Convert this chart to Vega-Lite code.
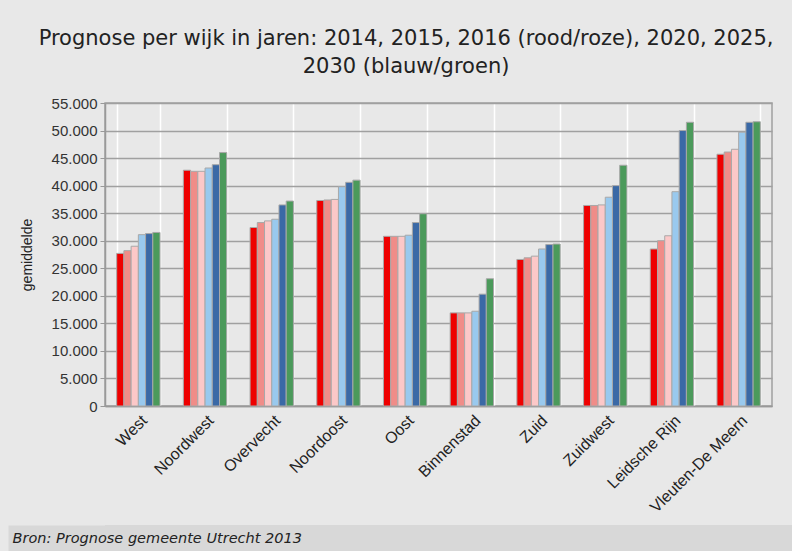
{
  "$schema": "https://vega.github.io/schema/vega-lite/v6.json",
  "background": "#e8e8e8",
  "padding": {"left": -5, "top": 27, "right": 0, "bottom": 0},
  "config": {
    "font": "Liberation Sans",
    "locale": {"number": {"decimal": ",", "thousands": ".", "grouping": [3], "currency": ["€", ""]}}
  },
  "datasets": {
    "prognose": [
      {"wijk": "West", "jaar": "2014", "aantal": 27700},
      {"wijk": "West", "jaar": "2015", "aantal": 28200},
      {"wijk": "West", "jaar": "2016", "aantal": 29000},
      {"wijk": "West", "jaar": "2020", "aantal": 31100},
      {"wijk": "West", "jaar": "2025", "aantal": 31300},
      {"wijk": "West", "jaar": "2030", "aantal": 31500},
      {"wijk": "Noordwest", "jaar": "2014", "aantal": 42800},
      {"wijk": "Noordwest", "jaar": "2015", "aantal": 42600},
      {"wijk": "Noordwest", "jaar": "2016", "aantal": 42600},
      {"wijk": "Noordwest", "jaar": "2020", "aantal": 43200},
      {"wijk": "Noordwest", "jaar": "2025", "aantal": 43800},
      {"wijk": "Noordwest", "jaar": "2030", "aantal": 46000},
      {"wijk": "Overvecht", "jaar": "2014", "aantal": 32400},
      {"wijk": "Overvecht", "jaar": "2015", "aantal": 33300},
      {"wijk": "Overvecht", "jaar": "2016", "aantal": 33600},
      {"wijk": "Overvecht", "jaar": "2020", "aantal": 33900},
      {"wijk": "Overvecht", "jaar": "2025", "aantal": 36500},
      {"wijk": "Overvecht", "jaar": "2030", "aantal": 37200},
      {"wijk": "Noordoost", "jaar": "2014", "aantal": 37300},
      {"wijk": "Noordoost", "jaar": "2015", "aantal": 37400},
      {"wijk": "Noordoost", "jaar": "2016", "aantal": 37500},
      {"wijk": "Noordoost", "jaar": "2020", "aantal": 39800},
      {"wijk": "Noordoost", "jaar": "2025", "aantal": 40600},
      {"wijk": "Noordoost", "jaar": "2030", "aantal": 41000},
      {"wijk": "Oost", "jaar": "2014", "aantal": 30800},
      {"wijk": "Oost", "jaar": "2015", "aantal": 30800},
      {"wijk": "Oost", "jaar": "2016", "aantal": 30800},
      {"wijk": "Oost", "jaar": "2020", "aantal": 31000},
      {"wijk": "Oost", "jaar": "2025", "aantal": 33300},
      {"wijk": "Oost", "jaar": "2030", "aantal": 34900},
      {"wijk": "Binnenstad", "jaar": "2014", "aantal": 16900},
      {"wijk": "Binnenstad", "jaar": "2015", "aantal": 16900},
      {"wijk": "Binnenstad", "jaar": "2016", "aantal": 16900},
      {"wijk": "Binnenstad", "jaar": "2020", "aantal": 17200},
      {"wijk": "Binnenstad", "jaar": "2025", "aantal": 20300},
      {"wijk": "Binnenstad", "jaar": "2030", "aantal": 23100},
      {"wijk": "Zuid", "jaar": "2014", "aantal": 26600},
      {"wijk": "Zuid", "jaar": "2015", "aantal": 26900},
      {"wijk": "Zuid", "jaar": "2016", "aantal": 27200},
      {"wijk": "Zuid", "jaar": "2020", "aantal": 28500},
      {"wijk": "Zuid", "jaar": "2025", "aantal": 29300},
      {"wijk": "Zuid", "jaar": "2030", "aantal": 29400},
      {"wijk": "Zuidwest", "jaar": "2014", "aantal": 36400},
      {"wijk": "Zuidwest", "jaar": "2015", "aantal": 36400},
      {"wijk": "Zuidwest", "jaar": "2016", "aantal": 36500},
      {"wijk": "Zuidwest", "jaar": "2020", "aantal": 37900},
      {"wijk": "Zuidwest", "jaar": "2025", "aantal": 40000},
      {"wijk": "Zuidwest", "jaar": "2030", "aantal": 43700},
      {"wijk": "Leidsche Rijn", "jaar": "2014", "aantal": 28500},
      {"wijk": "Leidsche Rijn", "jaar": "2015", "aantal": 30000},
      {"wijk": "Leidsche Rijn", "jaar": "2016", "aantal": 30900},
      {"wijk": "Leidsche Rijn", "jaar": "2020", "aantal": 38900},
      {"wijk": "Leidsche Rijn", "jaar": "2025", "aantal": 50000},
      {"wijk": "Leidsche Rijn", "jaar": "2030", "aantal": 51500},
      {"wijk": "Vleuten-De Meern", "jaar": "2014", "aantal": 45700},
      {"wijk": "Vleuten-De Meern", "jaar": "2015", "aantal": 46100},
      {"wijk": "Vleuten-De Meern", "jaar": "2016", "aantal": 46600},
      {"wijk": "Vleuten-De Meern", "jaar": "2020", "aantal": 49700},
      {"wijk": "Vleuten-De Meern", "jaar": "2025", "aantal": 51500},
      {"wijk": "Vleuten-De Meern", "jaar": "2030", "aantal": 51600}
    ],
    "bron": [
      {"tekst": "Bron: Prognose gemeente Utrecht 2013"}
    ]
  },
  "concat": [
    {
      "width": 667,
      "height": 303,
      "view": {"stroke": "#a0a0a0", "strokeWidth": 1.5, "fill": "#e8e8e8"},
      "title": {
        "text": ["Prognose per wijk in jaren: 2014, 2015, 2016 (rood/roze), 2020, 2025,", "2030 (blauw/groen)"],
        "font": "DejaVu Sans",
        "fontSize": 21,
        "fontWeight": "normal",
        "color": "#222222",
        "lineHeight": 28,
        "offset": 19,
        "frame": "bounds",
        "anchor": "middle",
        "dx": 10
      },
      "data": {"name": "prognose"},
      "mark": {"type": "bar", "stroke": "#a8a8a8", "strokeWidth": 1},
      "encoding": {
        "x": {
          "field": "wijk",
          "type": "nominal",
          "sort": null,
          "scale": {"paddingInner": 0.35, "paddingOuter": 0.175},
          "axis": {
            "title": null,
            "labelAngle": -45,
            "labelFontSize": 16,
            "labelColor": "#222222",
            "labelPadding": 6,
            "ticks": false,
            "domainColor": "#999999",
            "domainWidth": 1.5,
            "grid": true,
            "gridColor": "#ffffff",
            "gridWidth": 1.5,
            "tickBand": "extent"
          }
        },
        "xOffset": {
          "field": "jaar",
          "type": "nominal",
          "scale": {"paddingInner": 0, "paddingOuter": 0}
        },
        "y": {
          "field": "aantal",
          "type": "quantitative",
          "scale": {"domain": [0, 55000], "nice": false},
          "axis": {
            "title": "gemiddelde",
            "titleFont": "Liberation Sans",
            "titleFontSize": 14,
            "titleFontWeight": "normal",
            "titleColor": "#222222",
            "titlePadding": 17,
            "values": [0, 5000, 10000, 15000, 20000, 25000, 30000, 35000, 40000, 45000, 50000, 55000],
            "format": ",d",
            "labelFontSize": 15,
            "labelColor": "#333333",
            "labelPadding": 3,
            "tickSize": 5,
            "tickColor": "#999999",
            "domainColor": "#999999",
            "domainWidth": 1.5,
            "gridColor": "#a0a0a0",
            "gridWidth": 1.5
          }
        },
        "color": {
          "field": "jaar",
          "type": "nominal",
          "scale": {
            "domain": ["2014", "2015", "2016", "2020", "2025", "2030"],
            "range": ["#ee0000", "#f08c88", "#fcc8c8", "#99c9ee", "#3a69a6", "#4b9a5b"]
          },
          "legend": null
        }
      }
    },
    {
      "width": 687,
      "height": 26,
      "view": {"stroke": null, "fill": "#d8d8d8"},
      "data": {"name": "bron"},
      "mark": {"type": "rect", "color": "#d8d8d8"},
      "encoding": {
        "y": {
          "field": "tekst",
          "type": "nominal",
          "scale": {"paddingInner": 0, "paddingOuter": 0},
          "axis": {
            "domain": false,
            "labels": false,
            "grid": false,
            "ticks": true,
            "tickSize": 97,
            "tickWidth": 26,
            "tickColor": "#d8d8d8",
            "title": "Bron: Prognose gemeente Utrecht 2013",
            "titleAngle": 0,
            "titleX": -93,
            "titleY": 13,
            "titleAlign": "left",
            "titleBaseline": "middle",
            "titleFont": "DejaVu Sans",
            "titleFontStyle": "italic",
            "titleFontWeight": "normal",
            "titleFontSize": 14.5,
            "titleColor": "#222222"
          }
        }
      }
    }
  ],
  "columns": 1,
  "align": "none",
  "spacing": 9
}
